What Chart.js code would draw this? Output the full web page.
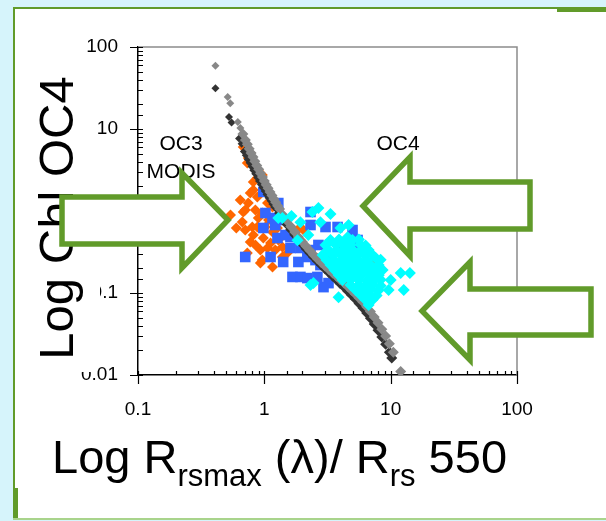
<!DOCTYPE html>
<html>
<head>
<meta charset="utf-8">
<script src="https://cdn.jsdelivr.net/npm/chart.js@4.4.1/dist/chart.umd.min.js"></script>
<style>
html,body{margin:0;padding:0;background:#d6f4fb;}
#wrap{width:606px;height:521px;position:relative;}
canvas{display:block;}
</style>
</head>
<body>
<div id="wrap"><canvas id="c" width="606" height="521"></canvas></div>
<script>
// ---- tick labels ----
const xTickLabels = [0.1, 1, 10, 100];
const yTickLabels = [0.01, 0.1, 1, 10, 100];

// ---- OC4 model curve (grey) ----
const oc4Ratio = [0.41,0.513,0.537,0.617,0.646,0.676,0.708,0.733,0.759,0.785,0.813,0.841,0.871,0.902,0.933,0.966,1.0,1.035,1.07,1.109,1.15,1.189,1.23,1.274,1.32,1.41,1.51,1.62,1.74,1.86,2.0,2.14,2.29,2.45,2.63,2.82,3.02,3.24,3.47,3.72,3.98,4.27,4.57,4.9,5.25,5.62,6.03,6.46,6.92,7.41,7.94,8.51,9.12,9.77,10.5,12.0];
const oc4Chl = [58.9,24.6,20.6,12.2,10.3,8.68,7.36,6.5,5.75,5.11,4.54,4.04,3.6,3.22,2.88,2.59,2.32,2.09,1.89,1.71,1.55,1.4,1.28,1.16,1.06,0.89,0.76,0.646,0.556,0.482,0.42,0.371,0.329,0.293,0.262,0.236,0.213,0.193,0.175,0.16,0.145,0.132,0.12,0.108,0.0975,0.0872,0.0775,0.0681,0.0594,0.0511,0.0434,0.0362,0.0298,0.024,0.0189,0.011];

// ---- OC3 MODIS model curve (dark) ----
const oc3Ratio = [0.41,0.525,0.55,0.631,0.661,0.708,0.733,0.759,0.785,0.813,0.841,0.871,0.902,0.933,0.966,1.0,1.035,1.07,1.109,1.15,1.189,1.23,1.32,1.41,1.51,1.62,1.74,1.86,2.0,2.14,2.29,2.45,2.63,2.82,3.02,3.24,3.47,3.72,3.98,4.27,4.57,4.9,5.25,5.62,6.03,6.46,6.92,7.41,7.94,8.51,9.12,9.77,10.2];
const oc3Chl = [31.4,14.0,12.0,7.66,6.61,5.32,4.78,4.29,3.87,3.48,3.14,2.84,2.57,2.33,2.11,1.92,1.75,1.59,1.45,1.33,1.22,1.115,0.944,0.802,0.687,0.593,0.513,0.449,0.393,0.347,0.308,0.274,0.245,0.22,0.198,0.178,0.161,0.145,0.131,0.118,0.106,0.0945,0.0842,0.0745,0.0654,0.0569,0.0491,0.0418,0.0351,0.0291,0.0237,0.0189,0.0161];

// ---- orange diamonds ----
const orangeRatio = [0.54,0.706,0.669,0.803,0.818,0.733,0.93,1.16,1.06,0.818,0.818,0.681,0.746,0.803,0.88,0.774,0.681,0.849,0.964,1.06,1.16,0.88,1.02,1.16,1.27,1.29,1.39,0.774,0.93,0.964,1.39,1.52,1.83,1.93,0.88,0.733,0.774,7.2,2.04,0.645,0.746,0.896,1.08,0.982,1.12,1.22,0.849,0.706,0.60,0.964,0.896];
const orangeChl = [0.894,1.03,0.734,0.638,0.509,0.308,0.232,0.208,0.354,1.80,2.26,6.03,4.43,3.96,1.48,1.66,0.972,1.03,0.945,1.25,1.12,0.638,0.638,0.555,0.621,0.443,0.364,0.419,0.334,0.252,0.275,0.308,0.586,0.443,2.53,3.85,5.10,0.219,0.586,1.36,1.25,0.822,0.776,0.469,0.407,0.334,0.385,0.586,0.621,2.75,3.16];

// ---- blue squares ----
const blueRatio = [0.982,1.29,0.982,1.22,1.16,1.27,1.61,0.706,1.12,1.61,2.32,2.32,3.05,3.80,2.32,2.19,2.54,1.67,1.93,2.19,2.63,3.22,2.94,2.78,3.47,4.24,5.57,5.47,4.99,1.27,1.86,1.41,1.93,1.47,2.68,3.34,1.02];
const blueChl = [1.71,1.25,0.621,0.675,0.822,0.469,0.354,0.275,0.275,0.482,0.675,0.972,0.638,0.638,0.334,0.275,0.252,0.157,0.157,0.152,0.157,0.132,0.118,0.219,0.208,0.334,0.334,0.443,0.586,0.776,0.239,0.239,0.354,0.509,0.385,0.291,0.945];

// ---- cyan diamonds ----
const cyanRatio = [1.39,1.64,1.93,2.40,2.68,2.78,3.34,2.23,1.83,1.29,4.64,4.56,3.87,2.45,2.32,12.0,14.2,12.7,10.0,9.64,7.6,4.01,
 3.34,3.9,4.39,4.99,5.6,
 3.05,3.66,4.2,4.81,5.75,6.33,
 3.22,3.73,4.31,5.02,5.8,6.69,
 2.89,3.47,4.0,4.64,5.37,6.22,7.2,
 3.1,3.59,4.16,4.85,5.57,6.45,8.33,
 3.34,3.87,4.48,5.18,6.0,6.94,8.03,
 3.59,4.16,4.81,5.6,6.45,7.46,8.64,
 3.87,4.48,5.18,6.0,6.94,8.05,
 4.16,4.81,5.57,6.45,7.46,8.33,
 4.81,5.57,6.45,7.2,8.33,
 5.27,6.1,6.94,8.03,
 5.78,6.69,7.74,
 6.33,7.2,
 6.69];
const cyanChl = [0.82,0.87,0.73,0.97,1.09,0.73,0.92,0.51,0.44,0.82,0.675,0.48,0.089,0.132,0.125,0.175,0.175,0.109,0.144,0.109,0.267,0.62,
 0.443,0.45,0.44,0.443,0.45,
 0.385,0.39,0.38,0.385,0.39,0.38,
 0.334,0.33,0.34,0.334,0.33,0.334,
 0.291,0.29,0.295,0.291,0.29,0.291,0.29,
 0.252,0.25,0.255,0.252,0.25,0.252,0.255,
 0.219,0.22,0.219,0.215,0.219,0.22,0.219,
 0.191,0.19,0.191,0.195,0.191,0.19,0.191,
 0.166,0.165,0.166,0.17,0.166,0.165,
 0.144,0.145,0.144,0.14,0.144,0.145,
 0.125,0.125,0.127,0.125,0.123,
 0.109,0.11,0.109,0.108,
 0.0946,0.095,0.093,
 0.0822,0.083,
 0.0714];

const FONT = '"Liberation Sans", Arial, sans-serif';
const GREEN = '#619b2a';

function pairs(xs, ys){ return xs.map((x,i)=>({x:x, y:ys[i]})); }
function isDecade(v){ const l = Math.log10(v); return Math.abs(l - Math.round(l)) < 1e-6; }
function labelFor(v, list){ for (const t of list){ if (Math.abs(v - t) < t*1e-6) return String(t); } return ''; }

const deco = {
  id: 'deco',
  beforeDraw(chart){
    const c = chart.ctx;
    c.save();
    c.fillStyle = '#d6f4fb'; c.fillRect(0,0,606,521);
    c.fillStyle = '#ffffff'; c.fillRect(14,7,592,512);
    c.fillStyle = GREEN;
    c.fillRect(13,7,2,512);          // left border
    c.fillRect(13,7,544,2);          // top border
    c.fillRect(557,7,49,5);          // thick top-right segment
    c.fillRect(13,488,5,31);         // thick bottom-left segment
    c.fillStyle = '#a9d48c'; c.fillRect(13,518,593,2); // bottom border
    c.restore();
  },
  afterDraw(chart){
    const c = chart.ctx, a = chart.chartArea;
    const xs = chart.scales.x, ys = chart.scales.y;
    c.save();
    // plot box top/right
    c.strokeStyle = '#8c8c8c'; c.lineWidth = 1.5;
    c.beginPath(); c.moveTo(a.left, a.top); c.lineTo(a.right, a.top); c.lineTo(a.right, a.bottom); c.stroke();
    // tick marks
    c.strokeStyle = '#000'; c.lineWidth = 1.2;
    c.beginPath();
    xs.ticks.forEach(t => {
      const p = Math.round(xs.getPixelForValue(t.value)) + 0.5;
      if (isDecade(t.value)) { c.moveTo(p, a.bottom - 4); c.lineTo(p, a.bottom + 9); }
      else { c.moveTo(p, a.bottom - 4); c.lineTo(p, a.bottom); }
    });
    ys.ticks.forEach(t => {
      const p = Math.round(ys.getPixelForValue(t.value)) + 0.5;
      if (isDecade(t.value)) { c.moveTo(a.left - 8, p); c.lineTo(a.left + 5, p); }
      else { c.moveTo(a.left, p); c.lineTo(a.left + 5, p); }
    });
    c.stroke();

    // title text box (white) partially hiding tick labels
    c.fillStyle = '#fff';
    c.fillRect(15, 140, 85, 227);
    c.fillRect(15, 367, 76, 5);
    // y title
    c.fillStyle = '#000';
    c.save();
    c.translate(73, 218);
    c.rotate(-Math.PI/2);
    c.font = '49px ' + FONT;
    c.textAlign = 'center'; c.textBaseline = 'alphabetic';
    c.fillText('Log Chl OC4', 0, 0);
    c.restore();

    // x title box + title
    c.fillStyle = '#fff';
    c.fillRect(20, 416, 580, 70);
    c.fillStyle = '#000';
    c.textAlign = 'left'; c.textBaseline = 'alphabetic';
    let x = 52; const base = 473;
    const runs = [['Log R',47,0],['rsmax',31,13],[' (\u03bb)/ R',47,0],['rs',31,13],[' 550',47,0]];
    runs.forEach(r => { c.font = r[1] + 'px ' + FONT; c.fillText(r[0], x, base + r[2]); x += c.measureText(r[0]).width; });

    // annotations
    c.font = '21px ' + FONT; c.textAlign = 'center';
    c.fillText('OC3', 181, 150);
    c.fillText('MODIS', 181, 178);
    c.fillText('OC4', 398, 150);

    // arrows
    const arrows = [
      [[62,197],[182,197],[182,173],[228,220],[182,268],[182,244],[62,244]],
      [[530,182],[410,182],[410,157],[363,206],[410,256],[410,229],[530,229]],
      [[591,289],[470,289],[470,262],[422,311],[470,360],[470,335],[591,335]]
    ];
    arrows.forEach(pts => {
      c.beginPath();
      pts.forEach((p,i) => i ? c.lineTo(p[0],p[1]) : c.moveTo(p[0],p[1]));
      c.closePath();
      c.fillStyle = '#fff'; c.fill();
      c.lineWidth = 5.5; c.strokeStyle = GREEN; c.lineJoin = 'miter'; c.stroke();
    });
    c.restore();
  }
};

const bandRadius = ctx => (ctx.dataIndex < 5 ? 4 : 5.5);

new Chart(document.getElementById('c'), {
  type: 'scatter',
  data: {
    datasets: [
      {label:'OC4 data', data: pairs(cyanRatio, cyanChl), pointStyle:'rectRot', pointRadius:6, backgroundColor:'#00ffff', borderWidth:0, order:0},
      {label:'OC4', data: pairs(oc4Ratio, oc4Chl), pointStyle:'rectRot', pointRadius:bandRadius, backgroundColor:'#888888', borderWidth:0, order:1},
      {label:'OC3M', data: pairs(oc3Ratio, oc3Chl), pointStyle:'rectRot', pointRadius:bandRadius, backgroundColor:'#333333', borderWidth:0, order:2},
      {label:'blue', data: pairs(blueRatio, blueChl), pointStyle:'rect', pointRadius:7.5, backgroundColor:'#3366ff', borderWidth:0, order:3},
      {label:'OC3 data', data: pairs(orangeRatio, orangeChl), pointStyle:'rectRot', pointRadius:5.5, backgroundColor:'#ff6600', borderWidth:0, order:4}
    ]
  },
  options: {
    responsive: false,
    animation: false,
    devicePixelRatio: 1,
    events: [],
    layout: {padding: {top:47, right:89, bottom:0, left:0}},
    plugins: {legend:{display:false}, tooltip:{enabled:false}},
    scales: {
      x: {
        type: 'logarithmic', min: 0.1, max: 100, position: 'bottom',
        afterFit: s => { s.height = 146; },
        grid: {display:false, drawTicks:false},
        border: {display:true, color:'#000', width:1.5},
        ticks: {autoSkip:false, maxRotation:0, padding:23, color:'#000', font:{size:19, family:FONT},
                callback: v => labelFor(v, xTickLabels)}
      },
      y: {
        type: 'logarithmic', min: 0.01, max: 100, position: 'left',
        afterFit: s => { s.width = 138; },
        grid: {display:false, drawTicks:false},
        border: {display:true, color:'#000', width:1.5},
        ticks: {autoSkip:false, padding:20, color:'#000', font:{size:19, family:FONT},
                callback: v => labelFor(v, yTickLabels)}
      }
    }
  },
  plugins: [deco]
});
</script>
</body>
</html>
